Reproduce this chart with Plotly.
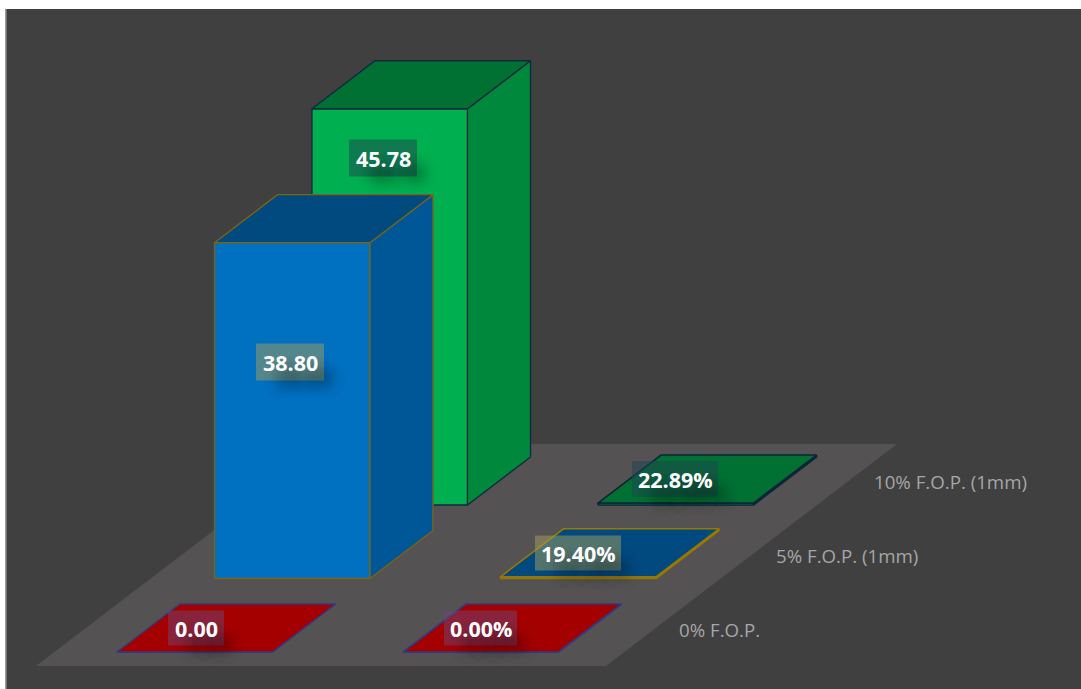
import plotly.graph_objects as go

# Chart data
rows = ["0% F.O.P.", "5% F.O.P. (1mm)", "10% F.O.P. (1mm)"]
force_values = [0.00, 38.80, 45.78]
share_values = [0.0000, 0.1940, 0.2289]
force_labels = ["0.00", "38.80", "45.78"]
share_labels = ["0.00%", "19.40%", "22.89%"]

# Styling per row: front, side, top faces, edge, label box
front_colors = ["#A50000", "#0070C0", "#00B050"]
side_colors = ["#A50000", "#005797", "#00883D"]
top_colors = ["#A50000", "#004A80", "#007033"]
edge_colors = [["#2F3A80", "#7F6410", "#10293F"], ["#2F3A80", "#9A7800", "#0D2538"]]
edge_widths = [1.3, 1.6]
box_colors = ["rgba(110,70,120,0.5)", "rgba(165,158,90,0.5)", "rgba(30,68,80,0.5)"]

# Oblique projection of the 3D scene onto the page
WIDTH, HEIGHT = 1081, 689
ORIGIN_X, ORIGIN_Y = 117.0, 652.0
COLUMN_STEP = 286.0
ROW_STEP_X, ROW_STEP_Y = 97.5, 73.5
BAR_WIDTH = 155.5
DEPTH_X, DEPTH_Y = 63.0, 48.0
UNIT_HEIGHT = 8.655


def corner(col, row, right, back, value):
    x = ORIGIN_X + col * COLUMN_STEP + row * ROW_STEP_X + right * BAR_WIDTH + back * DEPTH_X
    y = ORIGIN_Y - row * ROW_STEP_Y - back * DEPTH_Y - value * UNIT_HEIGHT
    return x, y


def face(points, color, edge, width):
    xs = [p[0] for p in points] + [points[0][0]]
    ys = [p[1] for p in points] + [points[0][1]]
    return go.Scatter(x=xs, y=ys, mode="lines", fill="toself", fillcolor=color,
                      line=dict(color=edge, width=width), hoverinfo="skip", showlegend=False)


def bar_faces(col, row, value):
    edge, width = edge_colors[col][row], edge_widths[col]
    top = [corner(col, row, r, b, value) for r, b in [(0, 0), (0, 1), (1, 1), (1, 0)]]
    front = [corner(col, row, r, 0, v) for r, v in [(0, 0), (0, value), (1, value), (1, 0)]]
    side = [corner(col, row, 1, b, v) for b, v in [(0, 0), (0, value), (1, value), (1, 0)]]
    return [face(front, front_colors[row], edge, width),
            face(side, side_colors[row], edge, width),
            face(top, top_colors[row], edge, width)]


fig = go.Figure()

# Floor of the scene
floor_x = [36, 606, 897, 327, 36]
floor_y = [666, 666, 444, 444, 666]
fig.add_trace(go.Scatter(x=floor_x, y=floor_y, mode="lines", fill="toself", fillcolor="#545252",
                         line=dict(width=0), hoverinfo="skip", showlegend=False))

# Bars painted back to front so nearer ones cover farther ones
for row in [2, 1, 0]:
    for col, series in enumerate([force_values, share_values]):
        for trace in bar_faces(col, row, series[row]):
            fig.add_trace(trace)

# Value labels: centre x, centre y, box width, box height
label_boxes = {
    (0, 0): (196, 628, 56, 35), (0, 1): (290, 362, 68, 37), (0, 2): (383, 158, 68, 37),
    (1, 0): (480.5, 628, 73, 35), (1, 1): (578, 553, 86, 35), (1, 2): (675, 479, 86, 36),
}
label_shapes = []
for (col, row), (lx, ly, w, h) in label_boxes.items():
    text = (force_labels if col == 0 else share_labels)[row]
    label_shapes.append(dict(type="rect", xref="x", yref="y", x0=lx - w / 2, x1=lx + w / 2,
                             y0=ly - h / 2, y1=ly + h / 2, fillcolor=box_colors[row],
                             line=dict(width=0), layer="above"))
    fig.add_annotation(x=lx, y=ly, text=f"<b>{text}</b>", showarrow=False,
                       font=dict(family="Open Sans", size=21.5, color="#FFFFFF",
                                 shadow="13px 14px 14px rgba(0,0,0,0.4), 13px 14px 16px rgba(0,0,0,0.3)"))

# Row names beside the floor
row_name_pos = [(677, 629), (774, 555), (872, 481)]
for name, (nx, ny) in zip(rows, row_name_pos):
    fig.add_annotation(x=nx, y=ny, text=name, showarrow=False, xanchor="left",
                       font=dict(family="Open Sans", size=18.7, color="#A6A6A6"))

fig.update_layout(
    width=WIDTH, height=HEIGHT, margin=dict(l=0, r=0, t=0, b=0),
    paper_bgcolor="#FFFFFF", plot_bgcolor="#FFFFFF", showlegend=False,
    xaxis=dict(range=[0, WIDTH], visible=False, fixedrange=True),
    yaxis=dict(range=[HEIGHT, 0], visible=False, fixedrange=True),
    shapes=[
        dict(type="rect", xref="x", yref="y", x0=6, y0=9, x1=WIDTH, y1=HEIGHT,
             fillcolor="#404040", line=dict(width=0), layer="below"),
        dict(type="line", xref="x", yref="y", x0=6, y0=9, x1=6, y1=HEIGHT,
             line=dict(color="#7F7F7F", width=1.5), layer="below"),
    ] + label_shapes,
)

fig.write_html("out.html", config={"displayModeBar": False})
